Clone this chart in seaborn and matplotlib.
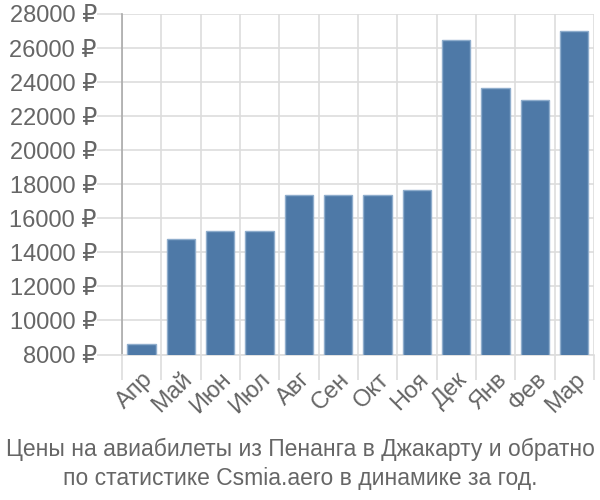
import matplotlib
matplotlib.use("Agg")
import matplotlib.pyplot as plt
import seaborn as sns
import pandas as pd
import numpy as np

months = ["Апр", "Май", "Июн", "Июл", "Авг", "Сен", "Окт", "Ноя", "Дек", "Янв", "Фев", "Мар"]
prices = [8630, 14780, 15230, 15230, 17370, 17370, 17370, 17640, 26460, 23660, 22950, 27010]
yticks = [8000, 10000, 12000, 14000, 16000, 18000, 20000, 22000, 24000, 26000, 28000]
title = "Цены на авиабилеты из Пенанга в Джакарту и обратно\nпо статистике Csmia.aero в динамике за год."

sns.set_style("white")
plt.rcParams['font.family'] = ['Liberation Sans', 'DejaVu Sans']

df = pd.DataFrame({"month": months, "price": prices})

fig = plt.figure(figsize=(6, 5), dpi=100)
ax = fig.add_axes([0.203, 0.291, 0.787, 0.681])

sns.barplot(data=df, x="month", y="price", color="#4e79a7", saturation=1,
            width=0.72, edgecolor="#8fadcc", linewidth=1, ax=ax, zorder=3)

ax.set_ylim(8000, 28000)
ax.set_xlim(-0.5, len(months) - 0.5)
ax.set_yticks(yticks)
ax.set_yticklabels([f"{v} ₽" for v in yticks])
ax.set_xticks(np.arange(len(months)))
ax.set_xticklabels(months, rotation=45, ha="right", rotation_mode="anchor")
ax.set_xticks(np.arange(len(months) + 1) - 0.5, minor=True)

ax.grid(True, axis="y", color="#dddddd", linewidth=1.2, zorder=0)
ax.grid(True, axis="x", which="minor", color="#dddddd", linewidth=1.2, zorder=0)
ax.tick_params(axis="y", left=True, length=18, color="#dddddd", width=1.2, labelsize=17,
               labelcolor="#666666", pad=0)
ax.tick_params(axis="x", which="major", bottom=False, length=0, labelsize=17,
               labelcolor="#666666", pad=10)
ax.tick_params(axis="x", which="minor", bottom=True, length=18, color="#dddddd", width=1.2)

for s in ["top", "right"]:
    ax.spines[s].set_visible(False)
ax.spines["left"].set_color("#aaaaaa")
ax.spines["left"].set_linewidth(1.2)
ax.spines["bottom"].set_color("#dddddd")
ax.spines["bottom"].set_linewidth(1.2)
ax.set_xlabel("")
ax.set_ylabel("")

fig.text(0.5, 0.02, title, ha="center", va="bottom", fontsize=16.5,
         color="#666666", linespacing=1.35)

fig.savefig("out.png", dpi=100)
